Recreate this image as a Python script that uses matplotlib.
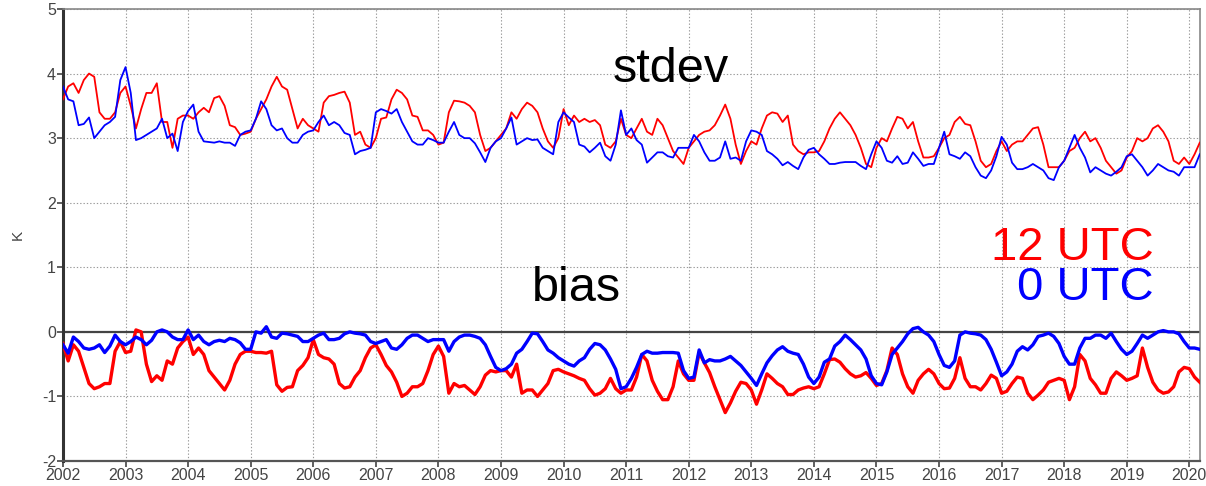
import matplotlib.pyplot as plt
import numpy as np

# monthly values, Jan 2002 .. Mar 2020
std_12 = [
    3.6, 3.8, 3.85, 3.7, 3.9, 4.0, 3.95, 3.4, 3.3, 3.3, 3.4, 3.7,          # 2002
    3.8, 3.5, 3.15, 3.45, 3.7, 3.7, 3.85, 3.25, 3.25, 2.85, 3.3, 3.35,     # 2003
    3.35, 3.3, 3.4, 3.47, 3.4, 3.62, 3.65, 3.5, 3.2, 3.17, 3.05, 3.07,     # 2004
    3.1, 3.3, 3.45, 3.6, 3.8, 3.95, 3.8, 3.75, 3.45, 3.15, 3.3, 3.2,       # 2005
    3.15, 3.1, 3.55, 3.65, 3.67, 3.7, 3.72, 3.55, 3.05, 3.1, 2.9, 2.85,    # 2006
    3.0, 3.3, 3.32, 3.6, 3.75, 3.7, 3.6, 3.35, 3.33, 3.12, 3.12, 3.05,     # 2007
    2.9, 2.93, 3.4, 3.58, 3.57, 3.55, 3.5, 3.4, 3.05, 2.8, 2.85, 2.95,     # 2008
    3.05, 3.15, 3.4, 3.3, 3.45, 3.55, 3.5, 3.4, 3.15, 2.95, 2.85, 3.0,     # 2009
    3.45, 3.2, 3.35, 3.25, 3.3, 3.25, 3.28, 3.2, 2.9, 2.85, 2.95, 3.3,     # 2010
    3.05, 3.0, 3.15, 3.3, 3.1, 3.05, 3.3, 3.2, 3.0, 2.8, 2.7, 2.6,         # 2011
    2.85, 2.95, 3.05, 3.1, 3.12, 3.2, 3.35, 3.52, 3.3, 2.9, 2.6, 2.8,      # 2012
    2.95, 2.9, 3.15, 3.35, 3.4, 3.38, 3.25, 3.35, 2.9, 2.8, 2.75, 2.78,    # 2013
    2.78, 2.8, 2.95, 3.15, 3.3, 3.4, 3.3, 3.2, 3.05, 2.85, 2.6, 2.55,      # 2014
    2.85, 3.0, 2.95, 3.15, 3.33, 3.3, 3.15, 3.25, 2.95, 2.7, 2.7, 2.72,    # 2015
    2.85, 3.0, 3.05, 3.25, 3.33, 3.22, 3.2, 2.95, 2.65, 2.55, 2.6, 2.8,    # 2016
    2.95, 2.8, 2.9, 2.95, 2.95, 3.05, 3.15, 3.17, 2.9, 2.55, 2.55, 2.55,   # 2017
    2.65, 2.8, 2.85, 3.0, 3.1, 2.95, 3.0, 2.85, 2.65, 2.55, 2.45, 2.5,     # 2018
    2.7, 2.8, 3.0, 2.95, 3.0, 3.15, 3.2, 3.1, 2.95, 2.65, 2.6, 2.7,        # 2019
    2.6, 2.75, 2.93,                                                       # 2020
]
std_00 = [
    3.8, 3.6, 3.57, 3.2, 3.22, 3.32, 3.0, 3.1, 3.2, 3.25, 3.33, 3.9,
    4.1, 3.7, 2.97, 3.0, 3.05, 3.1, 3.15, 3.3, 3.0, 3.07, 2.8, 3.25,
    3.42, 3.52, 3.1, 2.95, 2.94, 2.93, 2.95, 2.93, 2.93, 2.88, 3.05, 3.1,
    3.12, 3.3, 3.57, 3.45, 3.2, 3.12, 3.15, 3.0, 2.93, 2.93, 3.05, 3.1,
    3.12, 3.25, 3.35, 3.2, 3.25, 3.2, 3.08, 3.05, 2.75, 2.8, 2.82, 2.85,
    3.4, 3.45, 3.42, 3.38, 3.45, 3.25, 3.1, 2.95, 2.9, 2.9, 3.0, 2.97,
    2.93, 2.93, 3.1, 3.25, 3.05, 3.0, 3.0, 2.92, 2.78, 2.63, 2.85, 2.95,
    3.0, 3.15, 3.32, 2.9, 2.95, 3.0, 2.97, 2.98, 2.85, 2.8, 2.75, 3.25,
    3.4, 3.32, 3.25, 2.9, 2.87, 2.78, 2.85, 2.93, 2.72, 2.65, 2.9, 3.43,
    3.05, 3.15, 2.97, 2.9, 2.62, 2.7, 2.78, 2.78, 2.72, 2.7, 2.85, 2.85,
    2.85, 3.05, 2.95, 2.78, 2.65, 2.65, 2.7, 2.95, 2.68, 2.7, 2.65, 2.95,
    3.12, 3.1, 3.05, 2.8, 2.75, 2.68, 2.58, 2.63, 2.57, 2.52, 2.7, 2.82,
    2.85, 2.75, 2.68, 2.6, 2.6, 2.62, 2.63, 2.63, 2.63, 2.57, 2.52, 2.75,
    2.95, 2.85, 2.65, 2.62, 2.72, 2.6, 2.62, 2.78, 2.68, 2.57, 2.6, 2.6,
    2.85, 3.1, 2.75, 2.72, 2.68, 2.78, 2.72, 2.55, 2.42, 2.38, 2.5, 2.72,
    3.02, 2.9, 2.62, 2.52, 2.52, 2.55, 2.6, 2.55, 2.5, 2.38, 2.35, 2.55,
    2.65, 2.85, 3.05, 2.85, 2.7, 2.47, 2.55, 2.5, 2.45, 2.42, 2.48, 2.55,
    2.72, 2.75, 2.65, 2.55, 2.42, 2.5, 2.6, 2.55, 2.5, 2.48, 2.42, 2.55,
    2.55, 2.55, 2.75,
]
bias_12 = [
    -0.18, -0.45, -0.2, -0.3, -0.55, -0.8, -0.88, -0.85, -0.8, -0.8, -0.3, -0.15,
    -0.32, -0.3, 0.03, 0.0, -0.5, -0.77, -0.68, -0.75, -0.45, -0.5, -0.25, -0.15,
    -0.08, -0.35, -0.25, -0.35, -0.6, -0.7, -0.8, -0.9, -0.75, -0.5, -0.35, -0.3,
    -0.3, -0.32, -0.32, -0.33, -0.3, -0.82, -0.92, -0.86, -0.85, -0.6, -0.52, -0.4,
    -0.12, -0.35, -0.4, -0.42, -0.5, -0.8, -0.87, -0.85, -0.7, -0.6, -0.4, -0.25,
    -0.2, -0.35, -0.52, -0.62, -0.78, -1.0, -0.95, -0.85, -0.85, -0.8, -0.6, -0.35,
    -0.22, -0.38, -0.95, -0.8, -0.85, -0.83, -0.9, -0.97, -0.85, -0.67, -0.6, -0.62,
    -0.6, -0.6, -0.7, -0.5, -0.95, -0.9, -0.9, -1.0, -0.9, -0.8, -0.6, -0.58,
    -0.62, -0.65, -0.68, -0.72, -0.75, -0.88, -0.98, -0.95, -0.88, -0.72, -0.88, -0.95,
    -0.9, -0.9, -0.7, -0.35, -0.45, -0.75, -0.92, -1.05, -1.05, -0.85, -0.45, -0.65,
    -0.75, -0.75, -0.32, -0.48, -0.63, -0.85, -1.05, -1.25, -1.1, -0.92, -0.78, -0.8,
    -0.9, -1.12, -0.9, -0.65, -0.72, -0.8, -0.85, -0.97, -0.97, -0.9, -0.87, -0.85,
    -0.88, -0.85, -0.65, -0.43, -0.42, -0.47, -0.57, -0.65, -0.7, -0.68, -0.63, -0.72,
    -0.83, -0.8, -0.6, -0.25, -0.35, -0.65, -0.85, -0.95, -0.75, -0.65, -0.58, -0.65,
    -0.8, -0.88, -0.87, -0.72, -0.4, -0.72, -0.85, -0.85, -0.9, -0.8, -0.67, -0.72,
    -0.95, -0.92, -0.8, -0.7, -0.72, -0.95, -1.05, -0.98, -0.9, -0.78, -0.75, -0.72,
    -0.75, -1.05, -0.85, -0.35, -0.45, -0.72, -0.82, -0.95, -0.95, -0.72, -0.62, -0.68,
    -0.75, -0.72, -0.68, -0.25, -0.55, -0.78, -0.9, -0.95, -0.93, -0.85, -0.62, -0.55,
    -0.57, -0.7, -0.78,
]
bias_00 = [
    -0.2, -0.33, -0.08, -0.15, -0.25, -0.27, -0.25, -0.2, -0.32, -0.22, -0.05, -0.15,
    -0.2, -0.15, -0.08, -0.12, -0.2, -0.13, 0.0, 0.03, 0.0, -0.08, -0.12, -0.12,
    0.03, -0.12, -0.05, -0.15, -0.2, -0.15, -0.13, -0.15, -0.1, -0.12, -0.17, -0.27,
    -0.27, 0.0, -0.02, 0.08, -0.08, -0.1, -0.02, -0.03, -0.05, -0.07, -0.15, -0.15,
    -0.1, -0.05, -0.02, -0.12, -0.12, -0.1, -0.03, 0.0, -0.02, -0.03, -0.05, -0.15,
    -0.18, -0.15, -0.12, -0.25, -0.27, -0.2, -0.1, -0.05, -0.05, -0.1, -0.15, -0.12,
    -0.12, -0.12, -0.3, -0.15, -0.08, -0.05, -0.05, -0.07, -0.1, -0.2, -0.38, -0.55,
    -0.6, -0.57, -0.5, -0.33, -0.27, -0.15, -0.02, -0.03, -0.15, -0.28, -0.33, -0.4,
    -0.45, -0.5, -0.53, -0.45, -0.4, -0.27, -0.18, -0.2, -0.28, -0.42, -0.58, -0.88,
    -0.85, -0.72, -0.55, -0.35, -0.3, -0.33, -0.33, -0.32, -0.32, -0.32, -0.33, -0.6,
    -0.72, -0.7, -0.28, -0.48, -0.43, -0.45, -0.45, -0.42, -0.38, -0.45, -0.52, -0.62,
    -0.72, -0.83, -0.65, -0.48, -0.37, -0.28, -0.23, -0.3, -0.33, -0.35, -0.5, -0.7,
    -0.8, -0.7, -0.47, -0.42, -0.22, -0.15, -0.05, -0.12, -0.2, -0.28, -0.42, -0.68,
    -0.8, -0.82, -0.62, -0.35, -0.25, -0.15, -0.03, 0.05, 0.07, 0.0, -0.05, -0.15,
    -0.35, -0.52, -0.55, -0.45, -0.05, 0.0, -0.02, -0.03, -0.05, -0.12, -0.27, -0.47,
    -0.68, -0.62, -0.5, -0.3, -0.23, -0.28, -0.2, -0.07, -0.05, -0.02, -0.07, -0.18,
    -0.38, -0.5, -0.5, -0.25, -0.1, -0.1, -0.05, -0.05, -0.1, -0.02, -0.15, -0.27,
    -0.35, -0.3, -0.18, -0.05, -0.1, -0.05, 0.0, 0.02, 0.0, 0.0, -0.03, -0.15,
    -0.25, -0.25, -0.27,
]

t = 2002 + np.arange(len(std_12)) / 12.0
years = np.arange(2002, 2021)

plt.rcParams['font.family'] = ['Liberation Sans', 'DejaVu Sans']
plt.rcParams['axes.unicode_minus'] = False
fig = plt.figure(figsize=(12.06, 4.86), dpi=100)
ax = fig.add_axes([0.0522, 0.0514, 0.9428, 0.9301])

ax.axhline(0, color='#444444', lw=1.6, zorder=2)
ax.plot(t, std_12, color='#ff0000', lw=1.3, zorder=3)
ax.plot(t, std_00, color='#0000ff', lw=1.3, zorder=3)
ax.plot(t, bias_12, color='#ff0000', lw=2.4, zorder=3)
ax.plot(t, bias_00, color='#0000ff', lw=2.4, zorder=4)

ax.set_xlim(2002, 2020.17)
ax.set_ylim(-2, 5)
ax.set_xticks(years)
ax.set_xticklabels([str(y) for y in years])
ax.set_yticks(range(-2, 6))
ax.grid(True, color='#999999', ls=(0, (1.2, 1.8)), lw=0.8)
ax.tick_params(labelsize=11.5, labelcolor='#444444', length=4, width=1.2, color='#444444', pad=1)
ax.set_ylabel('K', fontsize=11, color='#444444', labelpad=12)

ax.spines['left'].set_linewidth(2.2)
ax.spines['left'].set_color('#333333')
ax.spines['bottom'].set_linewidth(1.6)
ax.spines['bottom'].set_color('#555555')
for s in ['top', 'right']:
    ax.spines[s].set_linewidth(1.2)
    ax.spines[s].set_color('#888888')

ax.text(2010.79, 3.87, 'stdev', fontsize=35, color='black')
ax.text(2009.5, 0.48, 'bias', fontsize=35, color='black')
ax.text(2019.43, 1.12, '12 UTC', fontsize=34, color='#ff0000', ha='right')
ax.text(2019.43, 0.5, '0 UTC', fontsize=34, color='#0000ff', ha='right')

fig.savefig('out.png', dpi=100)
